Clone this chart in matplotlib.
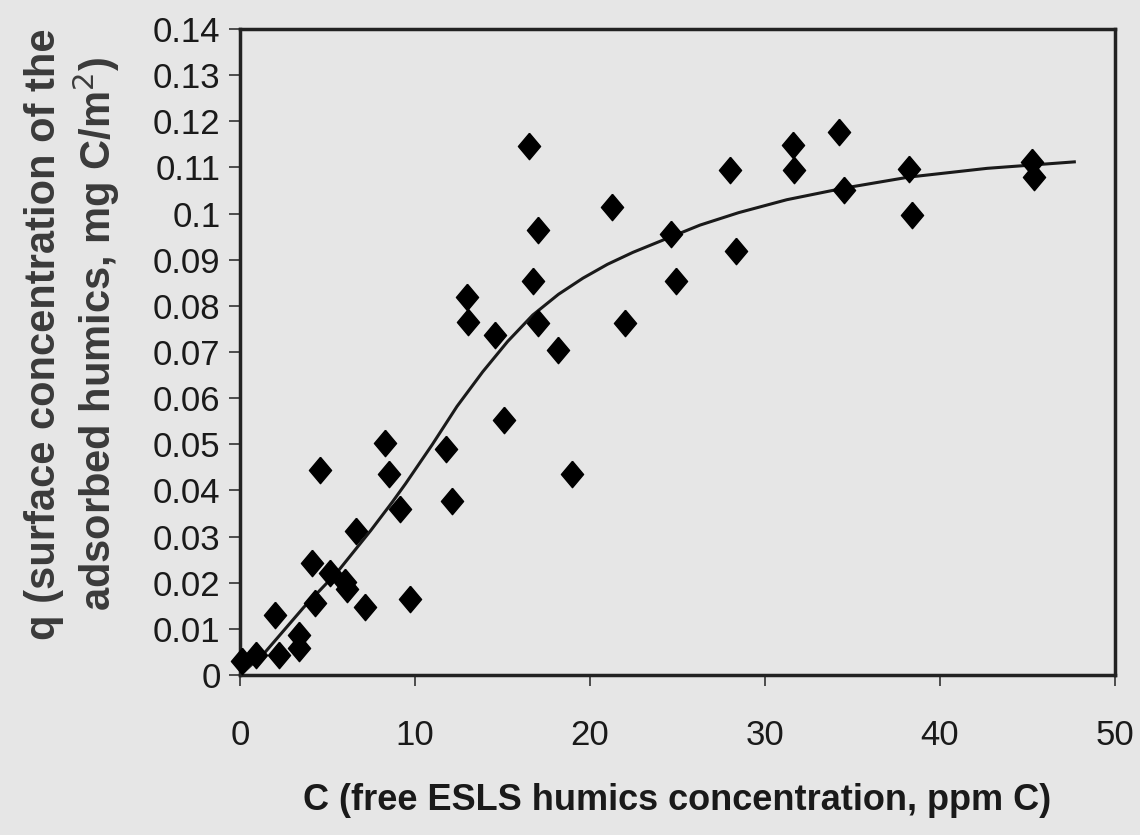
import matplotlib as mpl
mpl.use('Agg')
import matplotlib.pyplot as plt
import numpy as np

# measured points (C in ppm C, q in mg C/m2)
c_meas = [0.11, 0.92, 2.23, 2.0, 3.38, 3.38, 4.13, 4.3, 4.56, 5.17, 6.03, 6.09, 6.65, 7.13,
          8.29, 8.52, 9.15, 9.72, 11.77, 12.11, 13.0, 13.05, 14.6, 15.11, 16.54, 16.77,
          17.02, 17.02, 18.2, 18.99, 21.28, 21.99, 24.66, 24.91, 28.0, 28.35, 31.63, 31.67,
          34.25, 34.5, 38.22, 38.41, 45.25, 45.39]
q_meas = [0.0030, 0.0043, 0.0043, 0.0131, 0.0086, 0.0058, 0.0242, 0.0157, 0.0445, 0.0221,
          0.0201, 0.0187, 0.0313, 0.0147, 0.0503, 0.0436, 0.0359, 0.0164, 0.0490, 0.0377,
          0.0819, 0.0765, 0.0736, 0.0552, 0.1146, 0.0853, 0.0964, 0.0763, 0.0705, 0.0435,
          0.1014, 0.0763, 0.0955, 0.0853, 0.1095, 0.0918, 0.1148, 0.1095, 0.1177, 0.1052,
          0.1097, 0.0996, 0.1111, 0.1080]

# fitted isotherm
c_fit = [0.3, 1.45, 3.65, 5.56, 7.47, 8.71, 9.47, 11.0, 12.4, 13.87, 15.3, 16.73, 18.2, 19.6,
         21.0, 22.46, 24.4, 26.29, 28.5, 31.25, 34.5, 38.22, 42.7, 47.68]
q_fit = [0.0010, 0.0050, 0.0147, 0.0223, 0.0313, 0.0375, 0.0415, 0.0500, 0.0582, 0.0657,
         0.0723, 0.0780, 0.0825, 0.0860, 0.0890, 0.0916, 0.0946, 0.0975, 0.1002, 0.1030,
         0.1055, 0.1079, 0.1098, 0.1112]

xticks = [0, 10, 20, 30, 40, 50]
yticks = [0, 0.01, 0.02, 0.03, 0.04, 0.05, 0.06, 0.07, 0.08, 0.09, 0.1, 0.11, 0.12, 0.13, 0.14]
ytick_labels = ['0', '0.01', '0.02', '0.03', '0.04', '0.05', '0.06', '0.07', '0.08', '0.09',
                '0.1', '0.11', '0.12', '0.13', '0.14']

plt.rcParams['font.family'] = ['Liberation Sans', 'DejaVu Sans']
bg = '#e6e6e6'

fig = plt.figure(figsize=(11.4, 8.35), dpi=100, facecolor=bg)
ax = fig.add_axes([0.2105, 0.1916, 0.978 - 0.2105, 0.9653 - 0.1916])
ax.set_facecolor(bg)

diamond = [(0, 1), (0.84, 0), (0, -1), (-0.84, 0), (0, 1)]
ax.plot(c_fit, q_fit, color='#1a1a1a', lw=2.2, zorder=2)
ax.plot(c_meas, q_meas, ls='none', marker=diamond, ms=19, color='black', zorder=3,
        clip_on=False)

ax.set_xlim(0, 50)
ax.set_ylim(0, 0.14)
ax.set_xticks(xticks)
ax.set_xticklabels([str(t) for t in xticks])
ax.set_yticks(yticks)
ax.set_yticklabels(ytick_labels)
ax.tick_params(direction='out', length=8, width=1.2, color='#333333', labelsize=25,
               labelcolor='#1a1a1a')
ax.tick_params(axis='x', pad=24)
ax.tick_params(axis='y', pad=6)
for s in ax.spines.values():
    s.set_linewidth(2.5)
    s.set_color('#222222')

ax.set_xlabel('C (free ESLS humics concentration, ppm C)', fontweight='bold', fontsize=26,
              color='#1a1a1a', labelpad=22)
ax.set_ylabel('q (surface concentration of the\nadsorbed humics, mg C/m$^2$)', fontweight='bold',
              fontsize=30, color='#3a3a3a', linespacing=1.15)
ax.yaxis.set_label_coords(-0.135, 0.528)

plt.savefig('out.png', dpi=100, facecolor=bg)
